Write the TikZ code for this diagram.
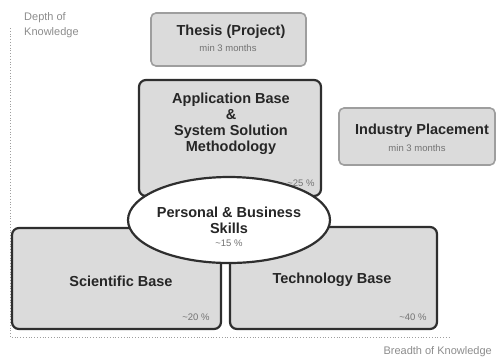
\documentclass[tikz,border=0pt]{standalone}
\usepackage{fontspec}
\setmainfont{Liberation Sans}
\usetikzlibrary{shapes.geometric}
\definecolor{boxfill}{gray}{0.86}
\definecolor{darkline}{gray}{0.18}
\definecolor{lightline}{gray}{0.62}
\definecolor{axistext}{gray}{0.55}
\tikzset{
  x=1pt,y=-1pt,
  heavybox/.style={draw=darkline,line width=2.2pt,fill=boxfill,rounded corners=7pt},
  lightbox/.style={draw=lightline,line width=1.6pt,fill=boxfill,rounded corners=5pt},
  title/.style={font=\bfseries\fontsize{14.5}{16}\selectfont,text=black!85,align=center},
  small/.style={font=\fontsize{9.5}{11}\selectfont,text=black!55},
  axislabel/.style={font=\fontsize{11}{15}\selectfont,text=axistext,align=left},
  axisline/.style={draw=lightline,dotted,line width=0.8pt}
}
\begin{document}
\begin{tikzpicture}
\useasboundingbox (0,0) rectangle (497,360);
% axes
\coordinate (ytop) at (10,28);
\coordinate (orig) at (10,337);
\coordinate (xend) at (450,337);
\draw[axisline] (ytop) -- (orig) -- (xend);
\node[axislabel,anchor=north west,inner sep=0pt] (depth) at (24,12) {Depth of\\Knowledge};
\node[axislabel,anchor=north east,inner sep=0pt] (breadth) at (492,346) {Breadth of Knowledge};
% boxes
\draw[lightbox] (151,13) rectangle (306,66);
\node[title] (thesis) at (231,32) {Thesis (Project)};
\node[small] (thesism) at (228,48) {min 3 months};

\draw[lightbox] (339,108) rectangle (495,165);
\node[title] (industry) at (422,131) {Industry Placement};
\node[small] (industrym) at (417,148) {min 3 months};

\draw[heavybox] (139,80) rectangle (321,196);
\node[title] (app) at (231,124) {Application Base\\\&\\System Solution\\Methodology};
\node[small,anchor=east] (apppct) at (318,183) {\textasciitilde25 \%};

\draw[heavybox] (12,228) rectangle (221,329);
\node[title] (sci) at (121,281) {Scientific Base};
\node[small,anchor=east] (scipct) at (213,317) {\textasciitilde20 \%};

\draw[heavybox] (230,227) rectangle (437,329);
\node[title] (tech) at (332,280) {Technology Base};
\node[small,anchor=east] (techpct) at (430,317) {\textasciitilde40 \%};

% ellipse
\node[ellipse,draw=darkline,line width=2.2pt,fill=white,minimum width=202pt,minimum height=86pt] (skills) at (229,220) {};
\node[title] (skillsT) at (229,220) {Personal \& Business\\Skills};
\node[small] (skillsp) at (229,243) {\textasciitilde15 \%};
\end{tikzpicture}
\end{document}
